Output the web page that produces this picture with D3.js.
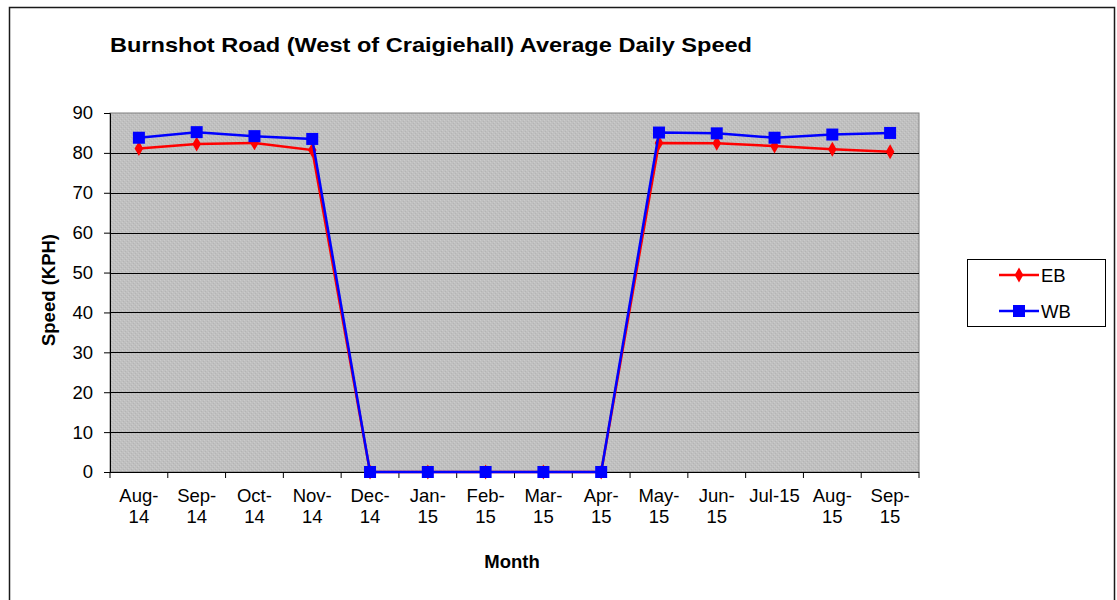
<!DOCTYPE html>
<html>
<head>
<meta charset="utf-8">
<script src="https://cdn.jsdelivr.net/npm/d3@7"></script>
<style>
  html, body { margin: 0; padding: 0; background: #fff; }
  svg { display: block; font-family: Arial, "Liberation Sans", sans-serif; }
</style>
</head>
<body>
<svg id="chart" width="1117" height="600"></svg>
<script>
// Monthly categories (two-line tick labels split on "\n")
const months = ["Aug-\n14", "Sep-\n14", "Oct-\n14", "Nov-\n14", "Dec-\n14", "Jan-\n15", "Feb-\n15",
                "Mar-\n15", "Apr-\n15", "May-\n15", "Jun-\n15", "Jul-15", "Aug-\n15", "Sep-\n15"];
// Average daily speed, eastbound and westbound (KPH)
const ebSpeed = [81.1, 82.2, 82.5, 80.7, 0, 0, 0, 0, 0, 82.5, 82.4, 81.7, 80.9, 80.3];
const wbSpeed = [83.8, 85.2, 84.2, 83.5, 0, 0, 0, 0, 0, 85.1, 84.9, 83.8, 84.6, 85.0];
const yTicks = [0, 10, 20, 30, 40, 50, 60, 70, 80, 90];

const svg = d3.select("#chart");
const plot = { left: 110, right: 919, top: 113, bottom: 472 };
const font = "Arial, 'Liberation Sans', sans-serif";

// Outer frame
svg.append("rect").attr("x", 9.5).attr("y", 7.5).attr("width", 1105).attr("height", 600)
  .attr("fill", "#fff").attr("stroke", "#1a1a1a").attr("stroke-width", 1.5);

// Title
svg.append("text").attr("x", 110).attr("y", 52)
  .attr("font-size", 21).attr("font-weight", "bold").attr("fill", "#000")
  .attr("textLength", 642).attr("lengthAdjust", "spacingAndGlyphs")
  .text("Burnshot Road (West of Craigiehall) Average Daily  Speed");

const x = d3.scaleBand().domain(d3.range(months.length)).range([plot.left, plot.right]);
const y = d3.scaleLinear().domain([0, 90]).range([plot.bottom, plot.top]);

// Textured grey plot background
const defs = svg.append("defs");
const pat = defs.append("pattern").attr("id", "tex").attr("patternUnits", "userSpaceOnUse")
  .attr("width", 4).attr("height", 4);
pat.append("rect").attr("width", 4).attr("height", 4).attr("fill", "#c0c0c0");
pat.append("rect").attr("x", 0).attr("y", 0).attr("width", 1).attr("height", 1).attr("fill", "#cbcbcb");
pat.append("rect").attr("x", 2).attr("y", 2).attr("width", 1).attr("height", 1).attr("fill", "#cbcbcb");
pat.append("rect").attr("x", 1).attr("y", 3).attr("width", 1).attr("height", 1).attr("fill", "#b4b4b4");
pat.append("rect").attr("x", 3).attr("y", 1).attr("width", 1).attr("height", 1).attr("fill", "#b4b4b4");

svg.append("rect").attr("x", plot.left).attr("y", plot.top)
  .attr("width", plot.right - plot.left).attr("height", plot.bottom - plot.top)
  .attr("fill", "url(#tex)").attr("stroke", "#808080").attr("stroke-width", 1);

// Horizontal gridlines
svg.append("g").selectAll("line").data(yTicks.filter(d => d > 0 && d < 90)).join("line")
  .attr("x1", plot.left).attr("x2", plot.right)
  .attr("y1", d => Math.round(y(d)) + 0.5).attr("y2", d => Math.round(y(d)) + 0.5)
  .attr("stroke", "#000").attr("stroke-width", 1);

// Y axis
const yAxis = svg.append("g").attr("transform", `translate(${plot.left},0)`)
  .call(d3.axisLeft(y).tickValues(yTicks).tickSize(6).tickPadding(11));
yAxis.select(".domain").attr("stroke", "#000");
yAxis.selectAll(".tick line").attr("stroke", "#000");
yAxis.selectAll("text").attr("font-size", 18.5).attr("fill", "#000").attr("font-family", font);

// X axis: ticks at category boundaries, labels centred in each band
const bounds = d3.range(months.length + 1).map(i => plot.left + i * x.step());
const xg = svg.append("g");
xg.append("line").attr("x1", plot.left).attr("x2", plot.right)
  .attr("y1", plot.bottom + 0.5).attr("y2", plot.bottom + 0.5).attr("stroke", "#000");
xg.selectAll("line.tk").data(bounds).join("line").attr("class", "tk")
  .attr("x1", d => d).attr("x2", d => d)
  .attr("y1", plot.bottom).attr("y2", plot.bottom + 6).attr("stroke", "#000");
xg.selectAll("text").data(months).join("text")
  .attr("x", (d, i) => x(i) + x.bandwidth() / 2)
  .attr("y", 502).attr("text-anchor", "middle")
  .attr("font-size", 18.5).attr("fill", "#000")
  .each(function(d) {
    const parts = d.split("\n");
    d3.select(this).selectAll("tspan").data(parts).join("tspan")
      .attr("x", d3.select(this).attr("x"))
      .attr("dy", (p, j) => j === 0 ? 0 : 21)
      .text(p => p);
  });

// Axis titles
svg.append("text").attr("transform", "translate(55,290) rotate(-90)")
  .attr("text-anchor", "middle").attr("font-size", 18.5).attr("font-weight", "bold")
  .text("Speed (KPH)");
svg.append("text").attr("x", 512).attr("y", 568).attr("text-anchor", "middle")
  .attr("font-size", 18.5).attr("font-weight", "bold").text("Month");

// Series
const cx = i => x(i) + x.bandwidth() / 2;
const line = d3.line().x((d, i) => cx(i)).y(d => y(d));
const diamond = d3.symbol().type(d3.symbolDiamond).size(64);

const series = [
  { name: "EB", values: ebSpeed, color: "#ff0000", marker: "diamond" },
  { name: "WB", values: wbSpeed, color: "#0000ff", marker: "square" }
];

series.forEach(s => {
  const g = svg.append("g");
  g.append("path").datum(s.values).attr("d", line)
    .attr("fill", "none").attr("stroke", s.color).attr("stroke-width", 2.5);
  if (s.marker === "diamond") {
    g.selectAll("path.m").data(s.values).join("path").attr("class", "m")
      .attr("d", diamond).attr("transform", (d, i) => `translate(${cx(i)},${y(d)})`)
      .attr("fill", s.color);
  } else {
    g.selectAll("rect.m").data(s.values).join("rect").attr("class", "m")
      .attr("x", (d, i) => cx(i) - 6).attr("y", d => y(d) - 6)
      .attr("width", 12).attr("height", 12).attr("fill", s.color);
  }
});

// Legend
const lg = svg.append("g");
lg.append("rect").attr("x", 967.5).attr("y", 259.5).attr("width", 138).attr("height", 67)
  .attr("fill", "#fff").attr("stroke", "#000").attr("stroke-width", 1);
series.forEach((s, k) => {
  const ly = 275 + k * 36;
  lg.append("line").attr("x1", 999).attr("x2", 1039).attr("y1", ly).attr("y2", ly)
    .attr("stroke", s.color).attr("stroke-width", 2.5);
  if (s.marker === "diamond") {
    lg.append("path").attr("d", diamond).attr("transform", `translate(1019,${ly})`).attr("fill", s.color);
  } else {
    lg.append("rect").attr("x", 1013).attr("y", ly - 6).attr("width", 12).attr("height", 12).attr("fill", s.color);
  }
  lg.append("text").attr("x", 1041).attr("y", ly + 7).attr("font-size", 18.5).attr("fill", "#000").text(s.name);
});
</script>
</body>
</html>
